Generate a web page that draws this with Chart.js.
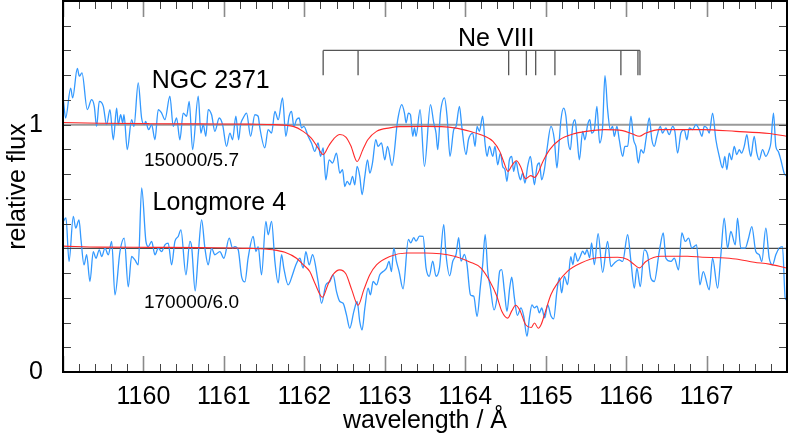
<!DOCTYPE html>
<html>
<head>
<meta charset="utf-8">
<script src="https://cdn.jsdelivr.net/npm/chart.js@4.4.1/dist/chart.umd.min.js"></script>
<style>
  html, body { margin: 0; padding: 0; background: #fff; }
  #wrap { width: 788px; height: 438px; }
</style>
</head>
<body>
<div id="wrap"><canvas id="spec" width="788" height="438"></canvas></div>
<script>
// observed spectrum, NGC 2371 (wavelength in A, relative flux)
const ngcWave = [
  1159.004,1159.033,1159.095,1159.120,1159.178,1159.203,1159.236,1159.302,1159.356,1159.389,
  1159.418,1159.451,1159.501,1159.542,1159.584,1159.625,1159.667,1159.687,1159.717,1159.742,
  1159.758,1159.799,1159.853,1159.882,1159.935,1159.977,1160.010,1160.027,1160.064,1160.102,
  1160.143,1160.184,1160.226,1160.267,1160.329,1160.370,1160.412,1160.453,1160.494,1160.536,
  1160.569,1160.611,1160.681,1160.714,1160.743,1160.776,1160.805,1160.847,1160.888,1160.942,
  1160.984,1161.033,1161.075,1161.108,1161.149,1161.183,1161.207,1161.240,1161.282,1161.332,
  1161.385,1161.426,1161.447,1161.509,1161.550,1161.593,1161.634,1161.675,1161.729,1161.770,
  1161.811,1161.841,1161.870,1161.903,1161.935,1161.965,1161.994,1162.047,1162.089,1162.130,
  1162.171,1162.201,1162.234,1162.267,1162.308,1162.350,1162.400,1162.441,1162.475,1162.503,
  1162.532,1162.565,1162.599,1162.627,1162.656,1162.689,1162.718,1162.752,1162.785,1162.814,
  1162.847,1162.888,1162.917,1162.959,1163.000,1163.034,1163.090,1163.161,1163.211,1163.245,
  1163.265,1163.294,1163.319,1163.348,1163.369,1163.389,1163.439,1163.493,1163.568,1163.609,
  1163.637,1163.658,1163.692,1163.742,1163.774,1163.811,1163.857,1163.886,1163.928,1163.957,
  1164.010,1164.040,1164.093,1164.122,1164.147,1164.176,1164.217,1164.246,1164.271,1164.301,
  1164.342,1164.370,1164.404,1164.437,1164.466,1164.494,1164.519,1164.549,1164.578,1164.602,
  1164.631,1164.661,1164.686,1164.714,1164.743,1164.776,1164.810,1164.839,1164.860,1164.892,
  1164.922,1164.950,1164.984,1165.016,1165.066,1165.108,1165.140,1165.170,1165.190,1165.224,
  1165.252,1165.282,1165.307,1165.335,1165.364,1165.389,1165.419,1165.460,1165.488,1165.522,
  1165.550,1165.571,1165.605,1165.637,1165.671,1165.708,1165.737,1165.770,1165.804,1165.832,
  1165.853,1165.886,1165.915,1165.957,1165.985,1166.019,1166.060,1166.093,1166.122,1166.152,
  1166.184,1166.217,1166.246,1166.288,1166.320,1166.350,1166.383,1166.425,1166.453,1166.494,
  1166.536,1166.578,1166.606,1166.640,1166.681,1166.723,1166.755,1166.785,1166.826,1166.867,
  1166.909,1166.942,1166.971,1167.004,1167.033,1167.075,1167.116,1167.158,1167.199,1167.227,
  1167.252,1167.282,1167.311,1167.344,1167.376,1167.406,1167.435,1167.468,1167.501,1167.530,
  1167.550,1167.592,1167.625,1167.655,1167.696,1167.737,1167.779,1167.799,1167.832,1167.861,
  1167.891,1167.923,1167.965,1167.998
];
const ngcFlux = [
  1.101,1.027,1.148,1.108,1.227,1.196,1.209,1.061,1.101,1.074,
  0.993,1.094,1.074,1.000,1.061,0.939,1.067,1.000,1.040,1.007,
  1.040,0.899,1.020,0.993,1.169,1.027,1.000,1.013,0.980,1.000,
  0.939,1.061,1.047,1.020,1.115,0.993,1.027,0.939,1.047,1.034,
  1.094,0.899,1.115,0.966,1.000,0.953,1.061,1.040,0.973,1.027,
  1.000,0.912,0.966,0.939,1.034,0.939,1.000,1.027,1.047,0.953,
  1.040,1.034,0.987,0.906,0.980,0.966,1.054,1.020,1.108,0.953,
  1.034,1.054,0.993,1.020,1.027,0.987,0.993,0.953,0.926,0.892,
  0.926,0.872,0.906,0.777,0.858,0.845,0.885,0.804,0.818,0.750,
  0.771,0.757,0.791,0.757,0.831,0.791,0.717,0.791,0.858,0.804,
  0.845,0.939,0.912,0.926,0.858,0.912,0.835,1.020,1.081,1.047,
  1.007,1.047,1.040,0.953,0.987,0.953,1.061,0.831,1.081,1.007,
  0.966,0.899,1.047,1.108,1.034,0.872,0.980,0.993,1.074,0.993,
  0.879,0.939,0.966,0.912,0.993,0.973,1.034,0.926,0.872,0.912,
  0.872,0.912,0.838,0.885,0.831,0.818,0.771,0.858,0.872,0.811,
  0.851,0.804,0.777,0.804,0.764,0.831,0.872,0.804,0.757,0.831,
  0.845,0.777,0.818,0.899,0.993,0.939,0.825,0.939,1.020,1.067,
  1.034,0.926,0.899,0.993,1.020,0.953,0.858,0.973,0.939,1.000,
  1.020,0.966,0.980,1.074,0.926,0.993,1.198,1.061,0.980,0.993,
  0.953,0.993,0.939,0.872,0.912,0.912,1.034,0.939,0.912,0.845,
  0.899,0.885,0.939,1.027,0.939,0.912,0.953,0.993,0.966,0.987,
  0.960,0.993,0.973,0.885,0.966,0.980,0.939,0.987,0.980,1.000,
  0.980,0.953,0.993,0.987,0.966,1.047,0.939,0.872,0.825,0.872,
  0.818,0.885,0.858,0.912,0.879,0.899,0.885,0.912,0.960,0.899,
  0.872,0.953,0.885,0.858,0.899,0.872,0.899,0.926,1.047,0.912,
  0.892,0.858,0.804,0.791
];

// observed spectrum, Longmore 4 (shifted by -0.5)
const lm4Wave = [
  1159.004,1159.037,1159.075,1159.128,1159.158,1159.199,1159.224,1159.261,1159.294,1159.335,
  1159.376,1159.410,1159.451,1159.481,1159.522,1159.563,1159.605,1159.646,1159.708,1159.761,
  1159.811,1159.853,1159.894,1159.935,1159.978,1160.031,1160.060,1160.102,1160.143,1160.184,
  1160.226,1160.267,1160.308,1160.350,1160.391,1160.432,1160.466,1160.528,1160.578,1160.599,
  1160.643,1160.681,1160.723,1160.764,1160.805,1160.847,1160.888,1160.950,1161.000,1161.066,
  1161.108,1161.137,1161.178,1161.220,1161.261,1161.302,1161.364,1161.398,1161.426,1161.468,
  1161.522,1161.550,1161.593,1161.634,1161.675,1161.717,1161.745,1161.799,1161.853,1161.894,
  1161.944,1161.985,1162.019,1162.060,1162.102,1162.171,1162.214,1162.267,1162.317,1162.358,
  1162.400,1162.441,1162.482,1162.524,1162.565,1162.615,1162.656,1162.689,1162.718,1162.752,
  1162.793,1162.822,1162.855,1162.897,1162.938,1162.979,1163.021,1163.053,1163.083,1163.112,
  1163.145,1163.178,1163.227,1163.294,1163.323,1163.360,1163.389,1163.431,1163.476,1163.513,
  1163.553,1163.596,1163.637,1163.680,1163.733,1163.761,1163.807,1163.845,1163.886,1163.919,
  1163.948,1163.990,1164.022,1164.065,1164.106,1164.147,1164.189,1164.217,1164.248,1164.280,
  1164.313,1164.358,1164.395,1164.429,1164.453,1164.487,1164.519,1164.553,1164.578,1164.611,
  1164.648,1164.693,1164.727,1164.768,1164.798,1164.830,1164.860,1164.892,1164.922,1164.950,
  1164.988,1165.025,1165.066,1165.099,1165.140,1165.170,1165.199,1165.232,1165.273,1165.311,
  1165.339,1165.364,1165.398,1165.431,1165.460,1165.488,1165.513,1165.547,1165.571,1165.605,
  1165.652,1165.708,1165.770,1165.811,1165.853,1165.915,1165.957,1166.019,1166.060,1166.102,
  1166.134,1166.176,1166.226,1166.267,1166.308,1166.350,1166.412,1166.462,1166.494,1166.557,
  1166.599,1166.652,1166.693,1166.735,1166.776,1166.817,1166.876,1166.917,1166.959,1167.033,
  1167.075,1167.137,1167.178,1167.220,1167.261,1167.302,1167.357,1167.385,1167.426,1167.481,
  1167.522,1167.563,1167.612,1167.655,1167.687,1167.737,1167.779,1167.820,1167.861,1167.903,
  1167.944,1167.978,1167.998
];
const lm4Flux = [
  0.609,0.623,0.447,0.629,0.582,0.615,0.534,0.433,0.474,0.366,
  0.487,0.460,0.494,0.467,0.501,0.474,0.528,0.312,0.487,0.541,
  0.344,0.467,0.453,0.433,0.744,0.528,0.507,0.528,0.474,0.501,
  0.487,0.514,0.521,0.433,0.528,0.548,0.575,0.393,0.528,0.507,
  0.328,0.474,0.615,0.501,0.433,0.501,0.474,0.487,0.460,0.541,
  0.501,0.507,0.494,0.386,0.364,0.462,0.548,0.487,0.507,0.393,
  0.609,0.555,0.609,0.447,0.360,0.474,0.420,0.352,0.393,0.433,
  0.460,0.420,0.487,0.433,0.474,0.366,0.278,0.352,0.366,0.393,
  0.325,0.285,0.278,0.231,0.177,0.244,0.285,0.204,0.170,0.258,
  0.339,0.312,0.366,0.352,0.393,0.406,0.420,0.447,0.406,0.501,
  0.447,0.406,0.336,0.536,0.522,0.543,0.529,0.549,0.548,0.421,
  0.387,0.448,0.387,0.421,0.596,0.475,0.389,0.448,0.475,0.543,
  0.448,0.475,0.434,0.312,0.306,0.225,0.347,0.434,0.555,0.408,
  0.340,0.251,0.300,0.408,0.414,0.327,0.245,0.340,0.383,0.300,
  0.229,0.259,0.226,0.144,0.219,0.271,0.259,0.266,0.239,0.259,
  0.219,0.272,0.226,0.215,0.327,0.381,0.320,0.387,0.353,0.466,
  0.434,0.482,0.448,0.468,0.489,0.475,0.495,0.462,0.522,0.434,
  0.559,0.403,0.528,0.426,0.440,0.453,0.447,0.555,0.447,0.339,
  0.420,0.345,0.494,0.474,0.379,0.366,0.487,0.562,0.460,0.447,
  0.460,0.413,0.562,0.528,0.541,0.501,0.514,0.352,0.406,0.332,
  0.460,0.339,0.474,0.622,0.501,0.568,0.514,0.622,0.501,0.501,
  0.541,0.588,0.487,0.474,0.447,0.582,0.460,0.433,0.474,0.501,
  0.507,0.298,0.291
];

// model spectra (red)
const ngcModelWave = [
  1159.000,1159.460,1160.081,1160.702,1161.323,1161.634,1161.861,1161.985,1162.089,1162.168,
  1162.234,1162.304,1162.366,1162.441,1162.516,1162.578,1162.656,1162.727,1162.789,1162.897,
  1163.062,1163.186,1163.497,1163.866,1164.056,1164.242,1164.345,1164.429,1164.478,1164.532,
  1164.578,1164.636,1164.689,1164.752,1164.814,1164.863,1164.904,1164.966,1165.050,1165.174,
  1165.339,1165.506,1165.733,1165.957,1166.081,1166.164,1166.246,1166.412,1166.950,1167.364,
  1167.779,1167.994
];
const ngcModelFlux = [
  1.009,1.006,1.004,1.003,1.002,1.000,0.993,0.973,0.945,0.907,
  0.879,0.915,0.943,0.960,0.950,0.915,0.851,0.899,0.939,0.973,
  0.987,0.992,0.993,0.987,0.973,0.953,0.932,0.892,0.850,0.811,
  0.834,0.854,0.830,0.781,0.794,0.787,0.804,0.851,0.899,0.939,
  0.962,0.973,0.980,0.976,0.962,0.953,0.966,0.980,0.980,0.973,
  0.964,0.953
];
const lm4ModelWave = [
  1159.000,1159.460,1160.081,1160.702,1161.323,1161.612,1161.758,1161.903,1161.985,1162.068,
  1162.130,1162.226,1162.292,1162.354,1162.441,1162.516,1162.590,1162.668,1162.739,1162.814,
  1162.897,1163.062,1163.270,1163.497,1163.866,1164.056,1164.193,1164.304,1164.391,1164.453,
  1164.530,1164.578,1164.627,1164.677,1164.754,1164.820,1164.861,1164.908,1164.944,1164.988,
  1165.066,1165.149,1165.273,1165.439,1165.646,1165.894,1166.019,1166.102,1166.164,1166.246,
  1166.432,1166.764,1166.950,1167.178,1167.364,1167.593,1167.779,1167.985
];
const lm4ModelFlux = [
  0.509,0.505,0.504,0.503,0.500,0.494,0.484,0.460,0.434,0.406,
  0.360,0.302,0.352,0.393,0.413,0.397,0.332,0.270,0.332,0.393,
  0.433,0.467,0.481,0.481,0.468,0.445,0.421,0.368,0.308,0.247,
  0.218,0.247,0.270,0.251,0.190,0.180,0.198,0.177,0.192,0.235,
  0.313,0.360,0.408,0.441,0.462,0.464,0.455,0.434,0.421,0.447,
  0.468,0.468,0.464,0.462,0.457,0.444,0.436,0.421
];

// continuum levels of the two spectra
const continuumLevels = [1.0, 0.5];

// Ne VIII line positions and the marker levels
const neViiiLines = [1162.234, 1162.668, 1164.540, 1164.760, 1164.876, 1165.115, 1165.935, 1166.147, 1166.172];
const neViiiTop = 1.3;
const neViiiBottom = 1.2;

// text annotations
const noteTexts = ['NGC 2371', '150000/5.7', 'Longmore 4', '170000/6.0', 'Ne VIII'];
const noteWave = [1160.102, 1160.006, 1160.114, 1160.006, 1163.911];
const noteFlux = [1.149, 0.831, 0.653, 0.259, 1.320];

const xMin = 1159, xMax = 1168;
const yMin = 0, yMax = 1.5;

const FAMILY = '"Liberation Sans", Arial, Helvetica, sans-serif';
Chart.defaults.font.family = FAMILY;

function pts(xs, ys) {
  const n = Math.min(xs.length, ys.length);
  const out = [];
  for (let i = 0; i < n; i++) out.push({x: xs[i], y: ys[i]});
  return out;
}

const neBar = [
  {x: neViiiLines[0], y: neViiiTop},
  {x: neViiiLines[neViiiLines.length - 1], y: neViiiTop}
];
const neDrops = [];
neViiiLines.forEach(l => {
  neDrops.push({x: l, y: neViiiTop}, {x: l, y: neViiiBottom}, {x: l, y: null});
});

const flat = {pointRadius: 0, tension: 0, fill: false};
const smooth = {pointRadius: 0, cubicInterpolationMode: 'monotone', fill: false};

const decor = {
  id: 'decor',
  afterDatasetsDraw(chart) {
    const {ctx, chartArea: a, scales: {x, y}} = chart;
    ctx.save();
    const seg = (x1, y1, x2, y2) => { ctx.beginPath(); ctx.moveTo(x1, y1); ctx.lineTo(x2, y2); ctx.stroke(); };

    // x ticks every 0.2 A, majors at whole A, inside on bottom and top
    for (let i = 0; i <= 45; i++) {
      const px = Math.round(x.getPixelForValue(xMin + i * 0.2)) + 0.5;
      const major = i % 5 === 0;
      const len = major ? 16 : 8;
      ctx.strokeStyle = major ? '#8a8a8a' : '#444';
      ctx.lineWidth = major ? 1.6 : 1;
      seg(px, a.bottom, px, a.bottom - len);
      seg(px, a.top, px, a.top + len);
    }
    // y ticks every 0.1, left and right
    ctx.strokeStyle = '#444';
    ctx.lineWidth = 1;
    for (let i = 1; i < 15; i++) {
      const py = Math.round(y.getPixelForValue(i / 10)) + 0.5;
      seg(a.left, py, a.left + 8, py);
      seg(a.right, py, a.right - 8, py);
    }
    // frame
    ctx.strokeStyle = '#000';
    ctx.lineWidth = 2;
    ctx.strokeRect(a.left, a.top, a.right - a.left, a.bottom - a.top);

    // labels
    ctx.fillStyle = '#000';
    ctx.textBaseline = 'alphabetic';
    ctx.textAlign = 'left';
    noteTexts.forEach((t, i) => {
      const small = t.indexOf('/') >= 0;
      ctx.font = (small ? '19px ' : '25px ') + FAMILY;
      ctx.fillText(t, x.getPixelForValue(noteWave[i]), y.getPixelForValue(noteFlux[i]));
    });
    ctx.restore();
  }
};

new Chart(document.getElementById('spec'), {
  type: 'line',
  data: {
    datasets: [
      Object.assign({data: pts([xMin, xMax], [continuumLevels[0], continuumLevels[0]]), borderColor: '#9a9a9a', borderWidth: 2, order: 6}, flat),
      Object.assign({data: pts([xMin, xMax], [continuumLevels[1], continuumLevels[1]]), borderColor: '#4a4a4a', borderWidth: 1.2, order: 6}, flat),
      Object.assign({data: pts(ngcWave, ngcFlux), borderColor: '#3399ff', borderWidth: 1.3, order: 4}, smooth),
      Object.assign({data: pts(lm4Wave, lm4Flux), borderColor: '#3399ff', borderWidth: 1.3, order: 4}, smooth),
      Object.assign({data: pts(ngcModelWave, ngcModelFlux), borderColor: '#ff2a2a', borderWidth: 1.1, order: 2}, smooth),
      Object.assign({data: pts(lm4ModelWave, lm4ModelFlux), borderColor: '#ff2a2a', borderWidth: 1.1, order: 2}, smooth),
      Object.assign({data: neBar, borderColor: '#555', borderWidth: 1.3, order: 1}, flat),
      Object.assign({data: neDrops, borderColor: '#555', borderWidth: 1.3, spanGaps: false, order: 1}, flat)
    ]
  },
  options: {
    responsive: false,
    animation: false,
    devicePixelRatio: 1,
    layout: {padding: {top: 1, right: 1, left: 0, bottom: 0}},
    plugins: {legend: {display: false}, tooltip: {enabled: false}},
    scales: {
      x: {
        type: 'linear',
        min: xMin,
        max: xMax,
        grid: {display: false, drawTicks: false},
        border: {display: false},
        ticks: {
          stepSize: 1,
          autoSkip: false,
          maxRotation: 0,
          padding: 10,
          color: '#000',
          font: {size: 25},
          callback: v => (v > xMin && v < xMax) ? String(v) : ''
        },
        title: {display: true, text: 'wavelength / Å', color: '#000', font: {size: 25}, padding: {top: 0, bottom: 2}},
        afterFit: s => { s.height = 66; s.paddingLeft = 0; s.paddingRight = 0; }
      },
      y: {
        min: yMin,
        max: yMax,
        grid: {display: false, drawTicks: false},
        border: {display: false},
        afterBuildTicks: s => { s.ticks = s.ticks.filter(t => t.value === 0 || t.value === 1); },
        ticks: {
          stepSize: 0.5,
          padding: 20,
          color: '#000',
          font: {size: 25},
          callback: v => String(v)
        },
        title: {display: true, text: 'relative flux', color: '#000', font: {size: 25}, padding: {top: 3, bottom: 0}},
        afterFit: s => { s.width = 63; s.paddingTop = 0; s.paddingBottom = 0; }
      }
    }
  },
  plugins: [decor]
});
</script>
</body>
</html>
